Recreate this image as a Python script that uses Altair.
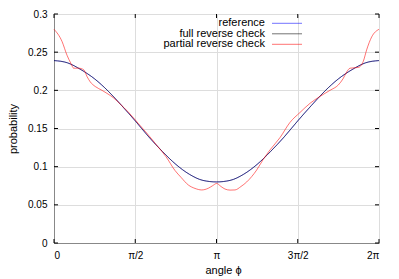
import altair as alt
import pandas as pd

# ---- data ----
ref_deg = [0, 15, 30, 45, 60, 75, 90, 105, 120, 135, 150, 165, 180,
           195, 210, 225, 240, 255, 270, 285, 300, 315, 330, 345, 360]
ref_p = [0.239, 0.236, 0.227, 0.215, 0.199, 0.180, 0.160, 0.139, 0.120, 0.103, 0.090, 0.082, 0.080,
         0.082, 0.090, 0.103, 0.120, 0.139, 0.160, 0.180, 0.199, 0.215, 0.227, 0.236, 0.239]
full_p = [0.239, 0.236, 0.227, 0.215, 0.199, 0.180, 0.160, 0.139, 0.120, 0.103, 0.090, 0.082, 0.080,
          0.082, 0.090, 0.103, 0.120, 0.139, 0.160, 0.180, 0.199, 0.215, 0.227, 0.236, 0.239]

part_deg = [0, 8.9, 14.4, 18.8, 21.8, 27.4, 32.9, 36.6, 40.2, 45.7, 53.2, 58.7, 66.1, 73.4, 82.7,
            95.3, 106.3, 115.2, 124.1, 134.0, 140.7, 148.8, 156.2, 163.6, 170.9, 175.6, 180.2,
            185.0, 189.4, 195.0, 200.5, 207.1, 213.5, 219.0, 224.5, 231.5, 239.3, 250.3, 261.4,
            272.5, 283.6, 294.6, 305.7, 314.9, 320.1, 324.2, 327.9, 337.1, 342.6, 346.3, 351.9, 360]
part_p = [0.280, 0.264, 0.246, 0.235, 0.229, 0.229, 0.227, 0.218, 0.211, 0.205, 0.200, 0.196, 0.190,
          0.182, 0.171, 0.154, 0.139, 0.126, 0.113, 0.095, 0.086, 0.076, 0.0715, 0.0695, 0.0717,
          0.075, 0.078, 0.074, 0.0707, 0.0693, 0.0695, 0.074, 0.080, 0.087, 0.0956, 0.109, 0.122,
          0.138, 0.158, 0.171, 0.183, 0.192, 0.200, 0.207, 0.215, 0.224, 0.229, 0.230, 0.238,
          0.253, 0.270, 0.280]

x_ticks = [0, 90, 180, 270, 360]
x_tick_labels = ["0", "π/2", "π", "3π/2", "2π"]
y_ticks = [0, 0.05, 0.1, 0.15, 0.2, 0.25, 0.3]

series_names = ["reference", "full reverse check", "partial reverse check"]
series_colors = ["#0000ff", "#000000", "#ff0000"]

FONT = "Liberation Sans"
W, H = 325, 229

label_expr = " : ".join(
    [f"datum.value == {v} ? '{l}'" for v, l in zip(x_ticks, x_tick_labels)]) + " : ''"

x_enc = alt.X("deg:Q",
              scale=alt.Scale(domain=[0, 360], nice=False, zero=False),
              axis=alt.Axis(values=x_ticks, labelExpr=label_expr, title="angle ϕ",
                            titleX=169, titleY=30, titleBaseline="alphabetic",
                            titleFontWeight="normal", labelPadding=7, tickSize=0))
y_enc = alt.Y("p:Q",
              scale=alt.Scale(domain=[0, 0.3], nice=False),
              axis=alt.Axis(values=y_ticks, format=".2~f", title="probability",
                            titleX=-38, titleY=114.5, titleBaseline="alphabetic",
                            titleFontWeight="normal", labelPadding=7, tickSize=0))

ref_df = pd.DataFrame({"deg": ref_deg, "p": ref_p})
full_df = pd.DataFrame({"deg": ref_deg, "p": full_p})
part_df = pd.DataFrame({"deg": part_deg, "p": part_p})

ref_line = alt.Chart(ref_df).mark_line(color=series_colors[0], strokeWidth=1, opacity=0.55,
                                       interpolate="monotone").encode(x=x_enc, y=y_enc)
full_line = alt.Chart(full_df).mark_line(color=series_colors[1], strokeWidth=1, opacity=0.5,
                                         interpolate="monotone").encode(x=x_enc, y=y_enc)
part_line = alt.Chart(part_df).mark_line(color=series_colors[2], strokeWidth=1, opacity=0.55,
                                         interpolate="monotone").encode(x=x_enc, y=y_enc)

xt_df = pd.DataFrame({"deg": x_ticks})
yt_df = pd.DataFrame({"p": y_ticks})
TL = 4
xt_bot = alt.Chart(xt_df).mark_rule(color="black", strokeWidth=1).encode(
    x=x_enc, y=alt.value(H), y2=alt.value(H - TL))
xt_top = alt.Chart(xt_df).mark_rule(color="black", strokeWidth=1).encode(
    x=x_enc, y=alt.value(0), y2=alt.value(TL))
yt_left = alt.Chart(yt_df).mark_rule(color="black", strokeWidth=1).encode(
    y=y_enc, x=alt.value(0), x2=alt.value(TL))
yt_right = alt.Chart(yt_df).mark_rule(color="black", strokeWidth=1).encode(
    y=y_enc, x=alt.value(W), x2=alt.value(W - TL))

legend_layers = []
row_y = [9.3, 19.8, 30.3]
for name, col, yy in zip(series_names, series_colors, row_y):
    d = pd.DataFrame({"label": [name]})
    legend_layers.append(
        alt.Chart(d).mark_text(align="right", baseline="middle", font=FONT, fontSize=11,
                               color="black").encode(text="label:N", x=alt.value(211),
                                                     y=alt.value(yy)))
    legend_layers.append(
        alt.Chart(d).mark_rule(color=col, strokeWidth=1, opacity=0.55).encode(
            x=alt.value(218), x2=alt.value(248), y=alt.value(yy)))

chart = alt.layer(
    ref_line, full_line, part_line, xt_bot, xt_top, yt_left, yt_right, *legend_layers
).properties(
    width=W, height=H,
    autosize=alt.AutoSizeParams(type="none"),
    padding={"left": 46, "top": 6, "right": 12, "bottom": 34},
).configure_view(
    stroke="black", strokeWidth=1
).configure_axis(
    domain=False, ticks=False, grid=False, tickSize=0,
    labelFont=FONT, labelFontSize=11, labelColor="black",
    titleFont=FONT, titleFontSize=11, titleColor="black", titleFontWeight="normal",
).configure(background="white")

chart.save("out.html", embed_options={"renderer": "svg", "actions": False})
